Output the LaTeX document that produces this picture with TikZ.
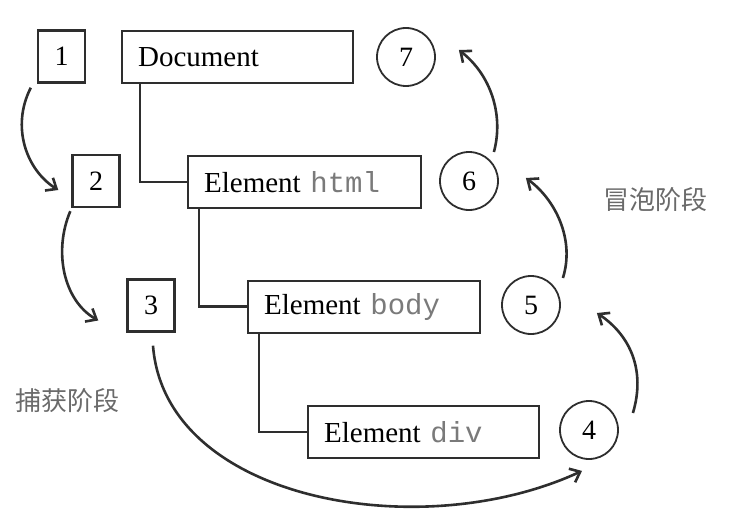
\documentclass[tikz,border=0pt]{standalone}
\usepackage{fontspec}
\setmainfont{Liberation Serif}
\setmonofont{Liberation Mono}
\newfontfamily\cjk{Noto Sans CJK SC}
\usetikzlibrary{calc,arrows.meta}
\definecolor{ink}{HTML}{2E2E2E}
\definecolor{monog}{HTML}{7A7A7A}
\definecolor{labg}{HTML}{6A6A6A}
\begin{document}
\begin{tikzpicture}[x=1pt,y=-1pt,
  numbox/.style={draw=ink,line width=2.4pt,minimum width=47pt,minimum height=52pt,inner sep=0pt,font=\fontsize{28}{29}\selectfont},
  elbox/.style={draw=ink,line width=2.2pt,anchor=north west,minimum height=52pt,inner xsep=16pt,inner ysep=0pt,align=left,font=\fontsize{29}{30}\selectfont},
  numcirc/.style={draw=ink,circle,line width=1.8pt,minimum size=58pt,inner sep=0pt,font=\fontsize{28}{29}\selectfont},
  tree/.style={draw=ink,line width=2.4pt},
  flow/.style={draw=ink,line width=2.6pt,-{Straight Barb[length=9pt,width=15pt,line width=2.6pt]}},
  phase/.style={text=labg,font=\cjk\fontsize{26}{28}\selectfont}]
\useasboundingbox (0,0) rectangle (739,519);
\newcommand{\mono}[1]{{\color{monog}\ttfamily #1}}
% number boxes
\node[numbox] (n1) at (61.5,56.5) {1};
\node[numbox] (n2) at (96,181) {2};
\node[numbox] (n3) at (151,305.5) {3};
% element boxes
\node[elbox,text width=199pt] (doc) at (121,30) {Document};
\node[elbox,text width=201pt] (html) at (187,155) {Element \mono{html}};
\node[elbox,text width=200pt] (body) at (247,279.5) {Element \mono{body}};
\node[elbox,text width=199pt] (div) at (307,405) {Element \mono{div}};
% circles
\node[numcirc] (n7) at (406,57) {7};
\node[numcirc] (n6) at (469,181) {6};
\node[numcirc] (n5) at (531,305) {5};
\node[numcirc] (n4) at (589,430) {4};
% tree lines
\draw[tree] ($(doc.south west)+(19,0)$) |- (html.west);
\draw[tree] ($(html.south west)+(12,0)$) |- (body.west);
\draw[tree] ($(body.south west)+(12,0)$) |- (div.west);
% capture arrows
\draw[flow] ([shift={(-6,4)}]n1.south west) .. controls +(-20,39) and +(-32,-20) .. ([shift={(-13,9)}]n2.west);
\draw[flow] ([shift={(-1,3)}]n2.south west) .. controls +(-17,40) and +(-35,-20) .. ([shift={(-28,15)}]n3.west);
\draw[flow] ([shift={(2,13)}]n3.south) .. controls +(12,155) and +(-162,75) .. ([shift={(-7,11)}]n4.south);
% bubble arrows
\draw[flow] ([shift={(14,-17)}]n4.east) .. controls +(13,-43) and +(33,22) .. ([shift={(36,8)}]n5.east);
\draw[flow] ([shift={(2,-27)}]n5.east) .. controls +(12,-38) and +(30,22) .. ([shift={(27,-3)}]n6.east);
\draw[flow] ([shift={(-5,-29)}]n6.east) .. controls +(10,-37) and +(32,25) .. ([shift={(23,-7)}]n7.east);
% phase labels
\node[phase] (cap) at (68,401) {捕获阶段};
\node[phase] (bub) at (655,200) {冒泡阶段};
\end{tikzpicture}
\end{document}
